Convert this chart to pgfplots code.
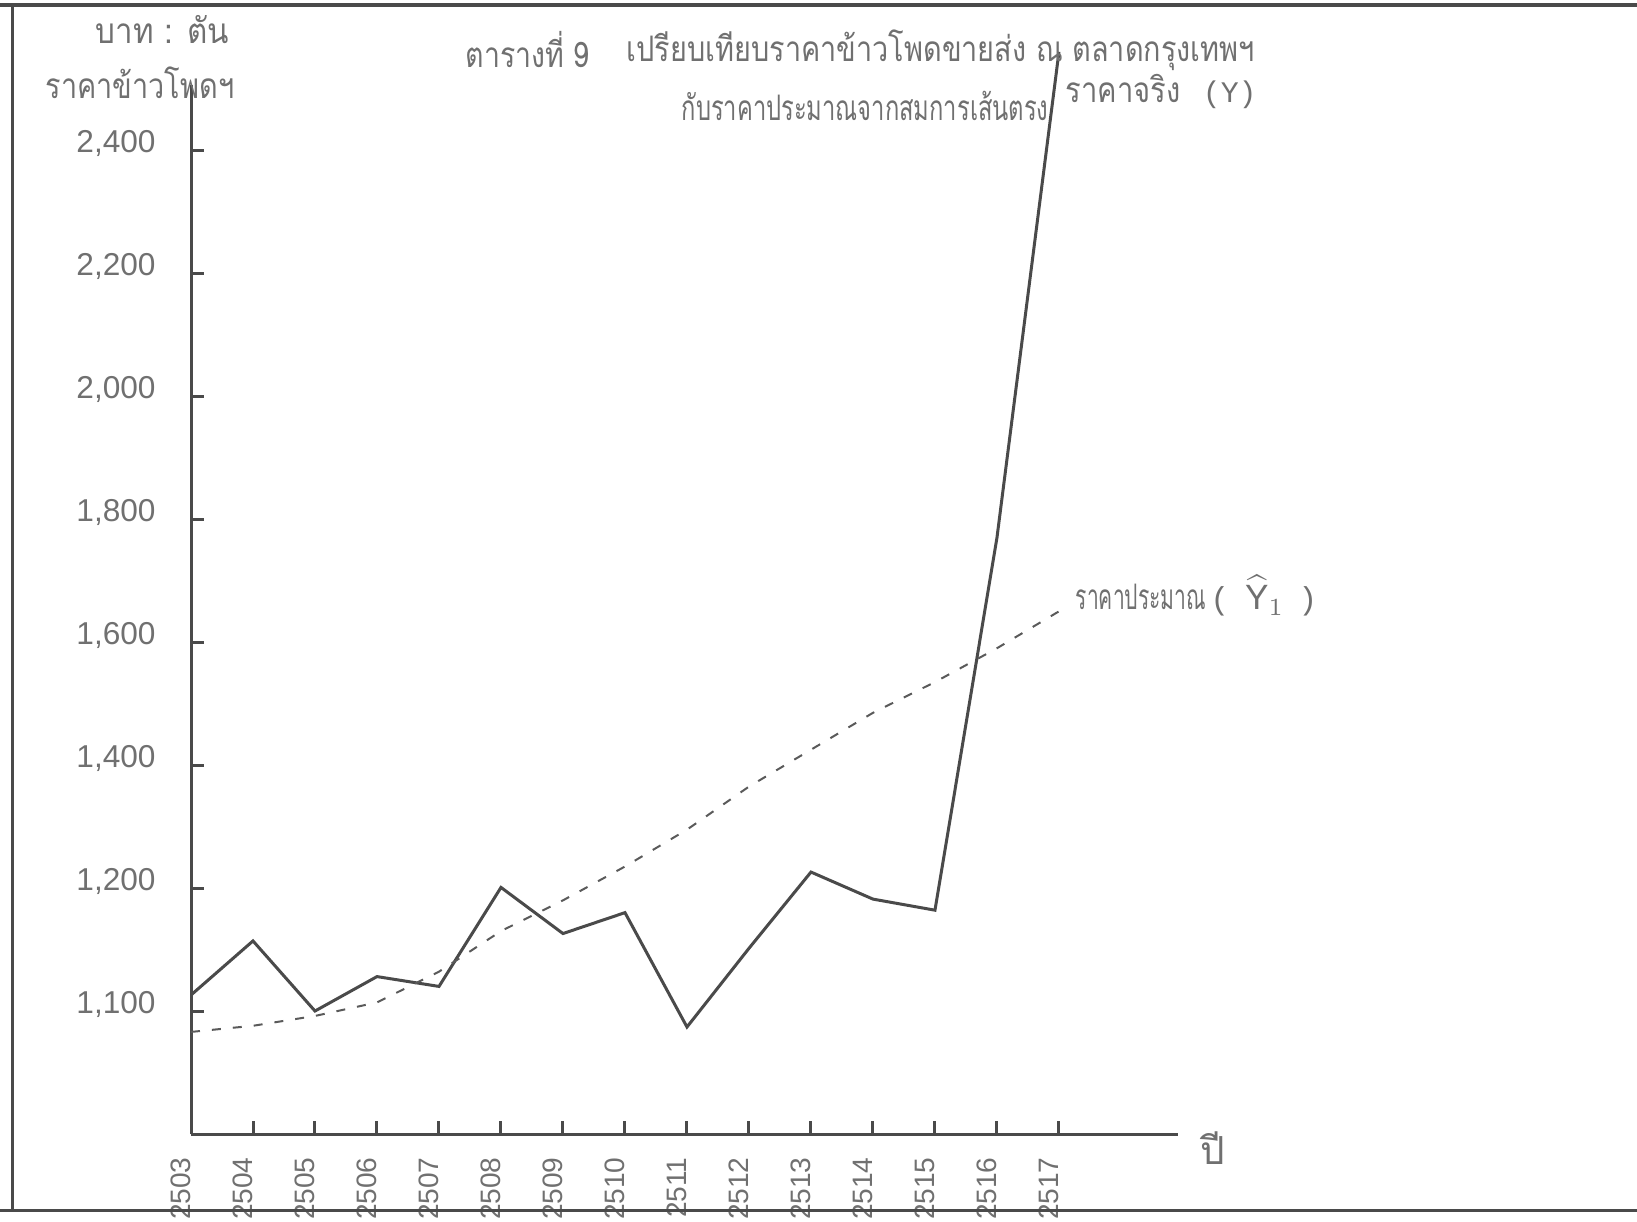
\documentclass[border=0pt]{standalone}
\usepackage{fontspec}
\usepackage{graphicx}
\usepackage{pgfplots}
\usepackage{pgfplotstable}
\pgfplotsset{compat=1.18}
\setmainfont{Liberation Sans}
\newfontfamily\thai[Script=Thai]{Loma}
\newfontfamily\numfont{Liberation Sans}
\newfontfamily\ttf{Liberation Mono}
\definecolor{inkline}{HTML}{4A4A4A}
\definecolor{inktext}{HTML}{707070}
\definecolor{inkdash}{HTML}{5A5A5A}
\newcommand{\thaitext}[2]{\scalebox{#1}[1]{\thai\fontsize{10}{12}\selectfont #2}}

% year, actual wholesale price (Y), estimated price (Y-hat), baht per ton
\pgfplotstableread{
year actual estimate
2503 1113 1083
2504 1157 1088
2505 1100 1096
2506 1128 1107
2507 1120 1132
2508 1201 1165
2509 1163 1190
2510 1180 1235
2511 1087 1295
2512 1151 1365
2513 1226 1425
2514 1191 1485
2515 1182 1535
2516 1770 1590
2517 2560 1650
}\datatable

\begin{document}
\begin{tikzpicture}
\path[use as bounding box] (-19.1mm,-8.7mm) rectangle (144.6mm,113.4mm);
% page frame of the scanned sheet
\draw[inkline, line width=0.35mm] (-19.1mm,112.9mm) -- (144.6mm,112.9mm);
\draw[inkline, line width=0.3mm] (-17.8mm,112.9mm) -- (-17.8mm,-7.6mm);

\begin{axis}[
  at={(0,0)}, anchor=south west, scale only axis,
  width=98.7mm, height=104.9mm,
  xmin=2503, xmax=2518.92, ymin=800, ymax=2506,
  axis x line=bottom, axis y line=left,
  axis line style={-, inkline, line width=0.3mm},
  tick align=inside, major tick length=1.3mm,
  tick style={inkline, line width=0.3mm},
  xtick={2503,2504,2505,2506,2507,2508,2509,2510,2511,2512,2513,2514,2515,2516,2517},
  xticklabels={2503,2504,2505,2506,2507,2508,2509,2510,2511,2512,2513,2514,2515,2516,2517},
  ytick={1000,1200,1400,1600,1800,2000,2200,2400},
  yticklabels={{1,100},{1,200},{1,400},{1,600},{1,800},{2,000},{2,200},{2,400}},
  yticklabel style={font=\numfont\fontsize{9}{10}\selectfont, text=inktext, anchor=east, xshift=-2.3mm, yshift=0.7mm},
  xticklabel style={font=\numfont\fontsize{8}{9}\selectfont, text=inktext, xshift=-1mm, yshift=-1.1mm, rotate=90, anchor=east},
  clip=false,
]
\addplot[inkline, line width=0.3mm] table[x=year, y expr={\thisrow{actual}<1200 ? 1000+2*(\thisrow{actual}-1100) : \thisrow{actual}}] {\datatable};
\addplot[inkdash, line width=0.2mm, dash pattern=on 0.9mm off 1.2mm] table[x=year, y expr={\thisrow{estimate}<1200 ? 1000+2*(\thisrow{estimate}-1100) : \thisrow{estimate}}] {\datatable};

\node[anchor=west, text=inktext, inner sep=0pt] at (axis cs:2517.1,2495) {\thaitext{0.83}{ราคาจริง}\hspace{2.2mm}{\ttf\fontsize{8.5}{10}\selectfont (Y)}};
\node[anchor=west, text=inktext, inner sep=0pt] at (axis cs:2517.26,1675) {\thaitext{0.6}{ราคาประมาณ}\hspace{0.4mm}{\ttf\fontsize{9}{10}\selectfont (}\hspace{1.6mm}$\widehat{\mathrm{Y}}_{1}$\hspace{1.4mm}{\ttf\fontsize{9}{10}\selectfont )}};
\end{axis}

% bottom edge of the sheet, drawn over the year labels as in the scan
\draw[inkline, line width=0.3mm] (-19.1mm,-7.6mm) -- (144.6mm,-7.6mm);

\node[anchor=west, text=inktext, inner sep=0pt] at (-9.6mm,110.4mm) {\thaitext{0.89}{บาท : ตัน}};
\node[anchor=west, text=inktext, inner sep=0pt] at (-14.6mm,105.1mm) {\thaitext{0.82}{ราคาข้าวโพดฯ}};
\node[anchor=west, text=inktext, inner sep=0pt] at (27.4mm,108.4mm) {\thaitext{0.81}{ตารางที่ 9}};
\node[anchor=west, text=inktext, inner sep=0pt] at (43.5mm,108.4mm) {\thaitext{0.82}{เปรียบเทียบราคาข้าวโพดขายส่ง ณ ตลาดกรุงเทพฯ}};
\node[anchor=west, text=inktext, inner sep=0pt] at (49.0mm,102.8mm) {\thaitext{0.675}{กับราคาประมาณจากสมการเส้นตรง}};
\node[text=inktext, inner sep=0pt] at (102.2mm,-1.4mm) {\thai\fontsize{11}{12}\selectfont ปี};
\end{tikzpicture}
\end{document}
